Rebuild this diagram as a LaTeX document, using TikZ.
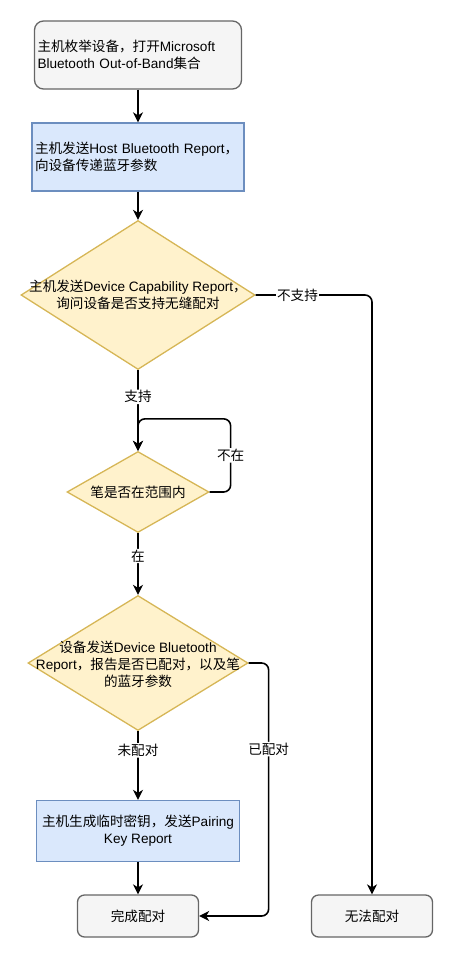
\documentclass[tikz,border=0pt]{standalone}
\usepackage{fontspec}
\setmainfont{Liberation Sans}
\newfontfamily\cjkfont{Noto Sans CJK SC}
\usetikzlibrary{shapes.geometric, arrows.meta}

% switch to the CJK font for Chinese characters
\XeTeXinterchartokenstate = 1
\newXeTeXintercharclass\cjkclass
\newcount\cjkchar
\cjkchar = "4E00
\loop
  \XeTeXcharclass\cjkchar = \cjkclass
  \advance\cjkchar by 1
\ifnum\cjkchar < "9FFF \repeat
\XeTeXcharclass"FF0C = \cjkclass
\XeTeXinterchartoks 0 \cjkclass = {\begingroup\cjkfont}
\XeTeXinterchartoks 4095 \cjkclass = {\begingroup\cjkfont}
\XeTeXinterchartoks \cjkclass 0 = {\endgroup}
\XeTeXinterchartoks \cjkclass 4095 = {\endgroup}

\definecolor{termfill}{HTML}{F5F5F5}
\definecolor{termline}{HTML}{666666}
\definecolor{procfill}{HTML}{DAE8FC}
\definecolor{procline}{HTML}{6C8EBF}
\definecolor{decfill}{HTML}{FFF2CC}
\definecolor{decline}{HTML}{D6B656}

\begin{document}
\begin{tikzpicture}[
    x = 1pt,
    y = -1pt,
    font = \fontsize{13.6}{17}\selectfont,
    termbox/.style = {draw=termline, fill=termfill, line width=1.3pt,
      rounded corners=9pt, inner xsep=3pt},
    procbox/.style = {draw=procline, fill=procfill, line width=1.3pt,
      inner xsep=3pt},
    decision/.style = {diamond, draw=decline, fill=decfill,
      line width=1.3pt, inner sep=0pt},
    flow/.style = {-{Stealth[length=10pt, width=10pt, inset=3pt]},
      line width=1.6pt, rounded corners=7pt},
    lbl/.style = {fill=white, inner sep=1pt},
    ]
    \useasboundingbox (0,0) rectangle (454,958);
    % boxes
    \node[termbox, minimum width=207, minimum height=68, text width=201, align=left]
    (enum) at (138,55) {主机枚举设备，打开Microsoft\\Bluetooth Out-of-Band集合};
    \node[procbox, minimum width=212, minimum height=68, text width=206, align=left]
    (hostRep) at (138,157) {主机发送Host Bluetooth Report，\\向设备传递蓝牙参数};
    \node[procbox, minimum width=203, minimum height=61, align=center]
    (pairKey) at (138,831) {主机生成临时密钥，发送Pairing\\Key Report};
    \node[termbox, rounded corners=7pt, minimum width=121, minimum height=42]
    (done) at (138,916) {完成配对};
    \node[termbox, rounded corners=7pt, minimum width=121, minimum height=42]
    (noPair) at (372,916) {无法配对};
    % decisions
    \node[decision, minimum width=234, minimum height=149] (capQ) at (138,295) {};
    \node[align=center] (capText) at (capQ) {主机发送Device Capability Report，\\询问设备是否支持无缝配对};
    \node[decision, minimum width=142, minimum height=81] (penQ) at (138,492) {};
    \node (penText) at (penQ) {笔是否在范围内};
    \node[decision, minimum width=220, minimum height=135] (keyQ) at (138,663) {};
    \node[align=center] (keyText) at ([yshift=-1pt]keyQ) {设备发送Device Bluetooth\\Report，报告是否已配对，以及笔\\的蓝牙参数};
    % arrows
    \draw[flow] (enum) -- (hostRep);
    \draw[flow] (hostRep) -- (capQ);
    \draw[flow] (capQ) -- node[lbl, pos=0.33] {支持} (penQ);
    \draw[flow] (penQ) -- node[lbl, pos=0.37] {在} (keyQ);
    \draw[flow] (keyQ) -- node[lbl, pos=0.28] {未配对} (pairKey);
    \draw[flow] (pairKey) -- (done);
    % side branches
    \draw[flow] (capQ.east) -- node[lbl, pos=0.36] {不支持} (capQ.east -| noPair)
    -- (noPair);
    \draw[flow] (penQ.east) -- ++(21,0) |- node[lbl, pos=0.25] {不在}
    ([yshift=32pt]penQ.north) -- (penQ.north);
    \draw[flow] (keyQ.east) -- ++(20,0) |- node[lbl, pos=0.17] {已配对} (done);
  \end{tikzpicture}
\end{document}
